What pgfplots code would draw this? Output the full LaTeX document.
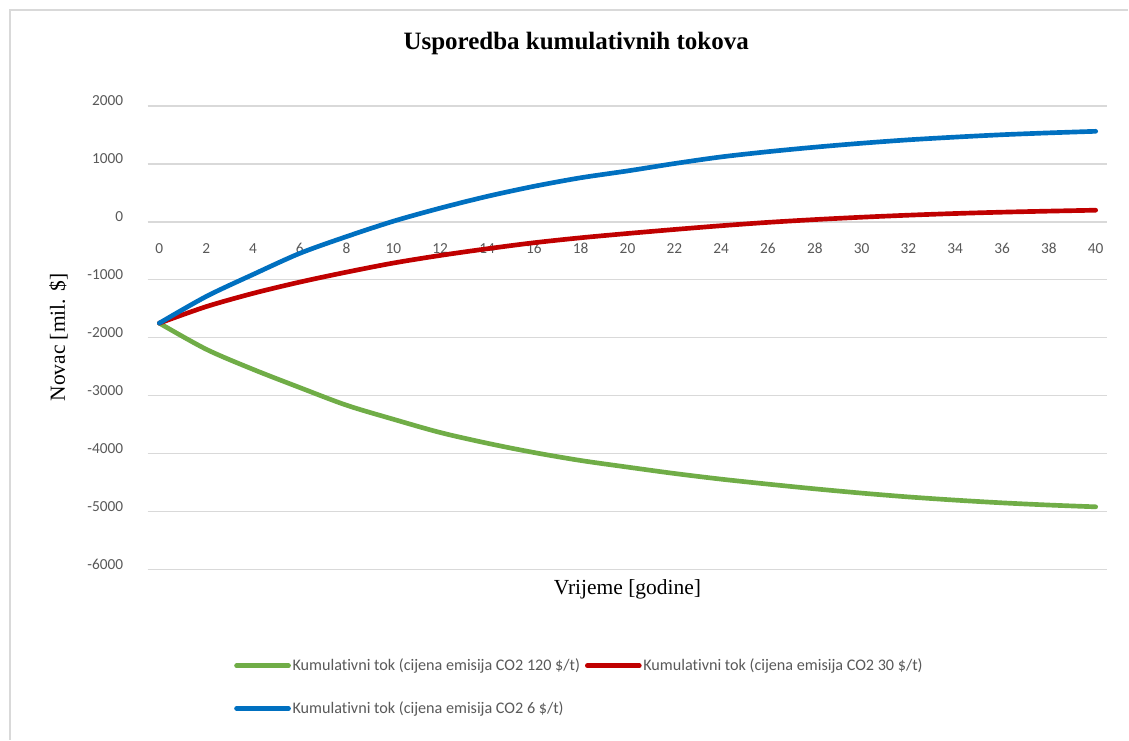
\documentclass[border=0pt]{standalone}
\usepackage{pgfplots}
\pgfplotsset{compat=1.18}
\usepackage{fontspec}
\setmainfont{Liberation Serif}
\newfontfamily\calibri[Ligatures=NoCommon]{Carlito}
\definecolor{cgreen}{HTML}{70AD47}
\definecolor{cred}{HTML}{C00000}
\definecolor{cblue}{HTML}{0070C0}
\definecolor{cgrid}{HTML}{D9D9D9}
\definecolor{ctick}{HTML}{595959}
\begin{document}
\begin{tikzpicture}
% page frame (1129 x 740 px at 0.6 pt/px)
\path[fill=white] (0pt,0pt) rectangle (677.4pt,-444pt);
\draw[cgrid, line width=0.8pt] (6pt,-444pt) -- (6pt,-6pt) -- (677.4pt,-6pt);
\node[anchor=base, font=\fontsize{15}{18}\selectfont\bfseries] at (345.9pt,-30pt) {Usporedba kumulativnih tokova};
\begin{axis}[
  at={(88.62pt,-63.6pt)}, anchor=north west,
  scale only axis, width=576.2pt, height=278.2pt,
  xmin=-0.5, xmax=40.5, ymin=-6000, ymax=2000,
  xtick={0,2,...,40}, ytick={-6000,-5000,...,2000},
  axis line style={draw=none}, tick style={draw=none},
  ymajorgrids, grid style={cgrid, line width=0.9pt},
  /pgf/number format/assume math mode=true,
  /pgf/number format/1000 sep={},
  tick label style={font=\calibri\fontsize{9.2}{11}\selectfont, text=ctick},
  xticklabel style={anchor=center, yshift=192.8pt},
  yticklabel style={anchor=east, xshift=-11.2pt, yshift=3pt},
  xlabel={Vrijeme [godine]}, ylabel={Novac [mil. \$]},
  every axis x label/.style={at={(axis description cs:0.5,-0.0546)}, anchor=base, font=\fontsize{12.9}{15}\selectfont},
  every axis y label/.style={at={(axis description cs:-0.0861,0.5)}, rotate=90, anchor=base, font=\fontsize{12.9}{15}\selectfont},
  legend columns=2,
  legend cell align=left,
  legend style={at={(axis description cs:0.0899,-0.1884)}, anchor=north west, draw=none, fill=none,
    font=\calibri\fontsize{9.7}{11}\selectfont, text=ctick,
    inner xsep=0pt, inner ysep=0pt,
    nodes={inner xsep=1pt, inner ysep=1pt},
    row sep=15pt,
    /tikz/every even column/.append style={column sep=2pt}},
  legend image code/.code={\draw[#1, line width=2.8pt, line cap=round] (1.2pt,0pt) -- (32.4pt,0pt);},
  every axis plot/.append style={line width=2.8pt, line cap=round, line join=round, mark=none, smooth},
]
\addplot[cgreen] coordinates {
(0,-1750) (2,-2200) (4,-2547) (6,-2862) (8,-3167) (10,-3409) (12,-3638) (14,-3822)
(16,-3983) (18,-4121) (20,-4235) (22,-4345) (24,-4443) (26,-4529) (28,-4610) (30,-4684)
(32,-4750) (34,-4805) (36,-4852) (38,-4890) (40,-4921)};
\addlegendentry{Kumulativni tok (cijena emisija CO2 120 \$/t)}
\addplot[cred] coordinates {
(0,-1750) (2,-1465) (4,-1236) (6,-1041) (8,-869) (10,-712) (12,-581) (14,-466)
(16,-362) (18,-276) (20,-202) (22,-133) (24,-68) (26,-10) (28,38) (30,79)
(32,114) (34,143) (36,166) (38,184) (40,200)};
\addlegendentry{Kumulativni tok (cijena emisija CO2 30 \$/t)}
\addplot[cblue] coordinates {
(0,-1750) (2,-1290) (4,-910) (6,-545) (8,-255) (10,10) (12,236) (14,438)
(16,612) (18,760) (20,878) (22,1005) (24,1120) (26,1210) (28,1288) (30,1356)
(32,1415) (34,1462) (36,1503) (38,1535) (40,1562)};
\addlegendentry{Kumulativni tok (cijena emisija CO2 6 \$/t)}
\end{axis}
\end{tikzpicture}
\end{document}
